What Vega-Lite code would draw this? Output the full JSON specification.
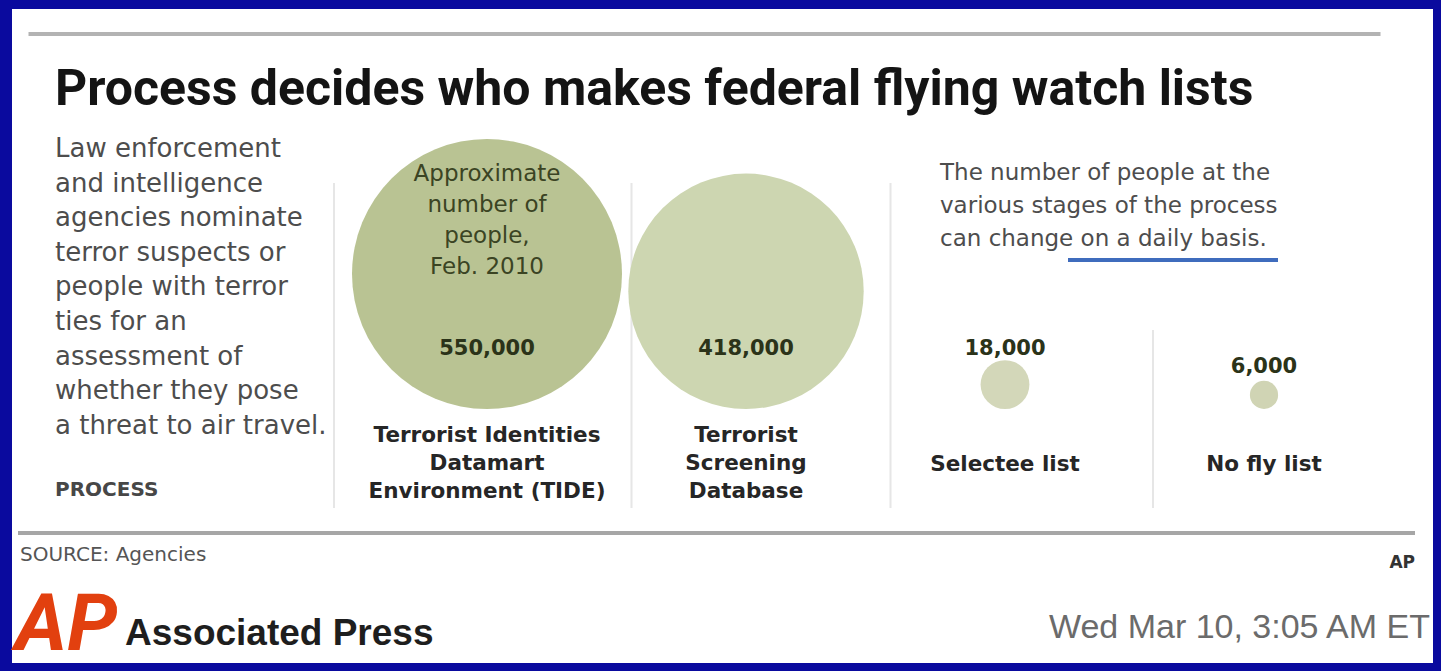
{
  "$schema": "https://vega.github.io/schema/vega-lite/v6.json",
  "width": 1421,
  "height": 654,
  "autosize": {"type": "none"},
  "padding": {"left": 12, "top": 9, "right": 8, "bottom": 8},
  "background": "#0a0a9e",
  "config": {"view": {"fill": "#ffffff", "stroke": null}},
  "datasets": {
    "stages": [
      {"stage": "TIDE", "name": "Terrorist Identities\nDatamart\nEnvironment (TIDE)", "people": 550000},
      {"stage": "TSDB", "name": "Terrorist\nScreening\nDatabase", "people": 418000},
      {"stage": "Selectee", "name": "Selectee list", "people": 18000},
      {"stage": "NoFly", "name": "No fly list", "people": 6000}
    ],
    "notes": [
      {"stage": "PROCESS", "part": "title", "text": "Process decides who makes federal flying watch lists"},
      {"stage": "PROCESS", "part": "description", "text": "Law enforcement\nand intelligence\nagencies nominate\nterror suspects or\npeople with terror\nties for an\nassessment of\nwhether they pose\na threat to air travel."},
      {"stage": "PROCESS", "part": "label", "text": "PROCESS"},
      {"stage": "TIDE", "part": "caption", "text": "Approximate\nnumber of\npeople,\nFeb. 2010"},
      {"stage": "Selectee", "part": "note", "text": "The number of people at the\nvarious stages of the process\ncan change on a daily basis."},
      {"stage": "PROCESS", "part": "source", "text": "SOURCE: Agencies"},
      {"stage": "NoFly", "part": "credit", "text": "AP"},
      {"stage": "PROCESS", "part": "logo", "text": "AP"},
      {"stage": "PROCESS", "part": "publisher", "text": "Associated Press"},
      {"stage": "NoFly", "part": "timestamp", "text": "Wed Mar 10, 3:05 AM ET"}
    ]
  },
  "layer": [
    {
      "data": {"name": "notes"},
      "transform": [{"filter": "datum.part === 'title'"}],
      "mark": {"type": "rule", "stroke": "#b3b3b3", "strokeWidth": 4, "xOffset": -70, "x2Offset": -13, "yOffset": -54},
      "encoding": {
        "x": {"datum": "PROCESS", "type": "nominal", "bandPosition": 0, "axis": null, "scale": {"type": "band", "domain": ["PROCESS", "TIDE", "TSDB", "Selectee", "NoFly"], "range": [86.5, 1381.5], "paddingInner": 0, "paddingOuter": 0}},
        "x2": {"datum": "NoFly", "bandPosition": 1},
        "y": {"datum": "title", "type": "nominal", "axis": null, "scale": {"type": "point", "domain": ["title", "note", "value", "base", "name", "source", "footer"], "range": [79, 631], "padding": 0}}
      }
    },
    {
      "data": {"name": "notes"},
      "transform": [{"filter": "datum.part === 'source'"}],
      "mark": {"type": "rule", "stroke": "#a6a6a6", "strokeWidth": 4, "xOffset": -80.5, "x2Offset": 21.5, "yOffset": -15},
      "encoding": {
        "x": {"datum": "PROCESS", "type": "nominal", "bandPosition": 0, "axis": null, "scale": {"type": "band", "domain": ["PROCESS", "TIDE", "TSDB", "Selectee", "NoFly"], "range": [86.5, 1381.5], "paddingInner": 0, "paddingOuter": 0}},
        "x2": {"datum": "NoFly", "bandPosition": 1},
        "y": {"datum": "source", "type": "nominal", "axis": null, "scale": {"type": "point", "domain": ["title", "note", "value", "base", "name", "source", "footer"], "range": [79, 631], "padding": 0}}
      }
    },
    {
      "data": {"name": "stages"},
      "transform": [{"filter": "datum.stage === 'TIDE'"}],
      "mark": {"type": "rule", "stroke": "#e6e6e6", "strokeWidth": 2, "xOffset": -23.5, "yOffset": 3, "y2Offset": 52},
      "encoding": {
        "x": {"field": "stage", "type": "nominal", "bandPosition": 0, "axis": null, "scale": {"type": "band", "domain": ["PROCESS", "TIDE", "TSDB", "Selectee", "NoFly"], "range": [86.5, 1381.5], "paddingInner": 0, "paddingOuter": 0}},
        "y": {"datum": "note", "type": "nominal", "axis": null, "scale": {"type": "point", "domain": ["title", "note", "value", "base", "name", "source", "footer"], "range": [79, 631], "padding": 0}},
        "y2": {"datum": "name"}
      }
    },
    {
      "data": {"name": "stages"},
      "transform": [{"filter": "datum.stage === 'TSDB' || datum.stage === 'Selectee'"}],
      "mark": {"type": "rule", "stroke": "#e6e6e6", "strokeWidth": 2, "xOffset": 15, "yOffset": 3, "y2Offset": 52},
      "encoding": {
        "x": {"field": "stage", "type": "nominal", "bandPosition": 0, "axis": null, "scale": {"type": "band", "domain": ["PROCESS", "TIDE", "TSDB", "Selectee", "NoFly"], "range": [86.5, 1381.5], "paddingInner": 0, "paddingOuter": 0}},
        "y": {"datum": "note", "type": "nominal", "axis": null, "scale": {"type": "point", "domain": ["title", "note", "value", "base", "name", "source", "footer"], "range": [79, 631], "padding": 0}},
        "y2": {"datum": "name"}
      }
    },
    {
      "data": {"name": "stages"},
      "transform": [{"filter": "datum.stage === 'NoFly'"}],
      "mark": {"type": "rule", "stroke": "#e6e6e6", "strokeWidth": 2, "xOffset": 18.5, "yOffset": 58, "y2Offset": 52},
      "encoding": {
        "x": {"field": "stage", "type": "nominal", "bandPosition": 0, "axis": null, "scale": {"type": "band", "domain": ["PROCESS", "TIDE", "TSDB", "Selectee", "NoFly"], "range": [86.5, 1381.5], "paddingInner": 0, "paddingOuter": 0}},
        "y": {"datum": "value", "type": "nominal", "axis": null, "scale": {"type": "point", "domain": ["title", "note", "value", "base", "name", "source", "footer"], "range": [79, 631], "padding": 0}},
        "y2": {"datum": "name"}
      }
    },
    {
      "data": {"name": "stages"},
      "mark": {"type": "circle", "opacity": 1},
      "encoding": {
        "x": {"field": "stage", "type": "nominal", "axis": null, "scale": {"type": "band", "domain": ["PROCESS", "TIDE", "TSDB", "Selectee", "NoFly"], "range": [86.5, 1381.5], "paddingInner": 0, "paddingOuter": 0}},
        "y": {"datum": "base", "type": "nominal", "axis": null, "scale": {"type": "point", "domain": ["title", "note", "value", "base", "name", "source", "footer"], "range": [79, 631], "padding": 0}},
        "yOffset": {"field": "people", "type": "quantitative", "scale": {"type": "sqrt", "domain": [0, 550000], "range": [45, -90]}},
        "size": {"field": "people", "type": "quantitative", "legend": null, "scale": {"type": "linear", "domain": [0, 550000], "range": [0, 72900]}},
        "color": {"field": "stage", "type": "nominal", "legend": null, "scale": {"domain": ["TIDE", "TSDB", "Selectee", "NoFly"], "range": ["#b9c393", "#cdd6b1", "#d3d7b9", "#d0d4b4"]}}
      }
    },
    {
      "data": {"name": "notes"},
      "transform": [{"filter": "datum.part === 'caption'"}],
      "mark": {"type": "text", "font": "DejaVu Sans", "fontSize": 23, "color": "#3b4423", "align": "center", "baseline": "top", "lineBreak": "\n", "lineHeight": 31, "dy": -17},
      "encoding": {
        "x": {"field": "stage", "type": "nominal", "axis": null, "scale": {"type": "band", "domain": ["PROCESS", "TIDE", "TSDB", "Selectee", "NoFly"], "range": [86.5, 1381.5], "paddingInner": 0, "paddingOuter": 0}},
        "y": {"datum": "note", "type": "nominal", "axis": null, "scale": {"type": "point", "domain": ["title", "note", "value", "base", "name", "source", "footer"], "range": [79, 631], "padding": 0}},
        "text": {"field": "text", "type": "nominal"}
      }
    },
    {
      "data": {"name": "stages"},
      "transform": [{"filter": "datum.stage !== 'NoFly'"}],
      "mark": {"type": "text", "font": "DejaVu Sans", "fontWeight": "bold", "fontSize": 21, "color": "#2b3319", "align": "center", "baseline": "middle", "dy": 77},
      "encoding": {
        "x": {"field": "stage", "type": "nominal", "axis": null, "scale": {"type": "band", "domain": ["PROCESS", "TIDE", "TSDB", "Selectee", "NoFly"], "range": [86.5, 1381.5], "paddingInner": 0, "paddingOuter": 0}},
        "y": {"datum": "value", "type": "nominal", "axis": null, "scale": {"type": "point", "domain": ["title", "note", "value", "base", "name", "source", "footer"], "range": [79, 631], "padding": 0}},
        "text": {"field": "people", "type": "quantitative", "format": ","}
      }
    },
    {
      "data": {"name": "stages"},
      "transform": [{"filter": "datum.stage === 'NoFly'"}],
      "mark": {"type": "text", "font": "DejaVu Sans", "fontWeight": "bold", "fontSize": 21, "color": "#2b3319", "align": "center", "baseline": "middle", "dy": 95},
      "encoding": {
        "x": {"field": "stage", "type": "nominal", "axis": null, "scale": {"type": "band", "domain": ["PROCESS", "TIDE", "TSDB", "Selectee", "NoFly"], "range": [86.5, 1381.5], "paddingInner": 0, "paddingOuter": 0}},
        "y": {"datum": "value", "type": "nominal", "axis": null, "scale": {"type": "point", "domain": ["title", "note", "value", "base", "name", "source", "footer"], "range": [79, 631], "padding": 0}},
        "text": {"field": "people", "type": "quantitative", "format": ","}
      }
    },
    {
      "data": {"name": "stages"},
      "transform": [{"filter": "datum.stage === 'TIDE' || datum.stage === 'TSDB'"}],
      "mark": {"type": "text", "font": "DejaVu Sans", "fontWeight": "bold", "fontSize": 21.5, "color": "#262626", "align": "center", "baseline": "middle", "lineBreak": "\n", "lineHeight": 28, "dy": -20},
      "encoding": {
        "x": {"field": "stage", "type": "nominal", "axis": null, "scale": {"type": "band", "domain": ["PROCESS", "TIDE", "TSDB", "Selectee", "NoFly"], "range": [86.5, 1381.5], "paddingInner": 0, "paddingOuter": 0}},
        "y": {"datum": "name", "type": "nominal", "axis": null, "scale": {"type": "point", "domain": ["title", "note", "value", "base", "name", "source", "footer"], "range": [79, 631], "padding": 0}},
        "text": {"field": "name", "type": "nominal"}
      }
    },
    {
      "data": {"name": "stages"},
      "transform": [{"filter": "datum.stage === 'Selectee' || datum.stage === 'NoFly'"}],
      "mark": {"type": "text", "font": "DejaVu Sans", "fontWeight": "bold", "fontSize": 21.5, "color": "#262626", "align": "center", "baseline": "middle", "dy": 9},
      "encoding": {
        "x": {"field": "stage", "type": "nominal", "axis": null, "scale": {"type": "band", "domain": ["PROCESS", "TIDE", "TSDB", "Selectee", "NoFly"], "range": [86.5, 1381.5], "paddingInner": 0, "paddingOuter": 0}},
        "y": {"datum": "name", "type": "nominal", "axis": null, "scale": {"type": "point", "domain": ["title", "note", "value", "base", "name", "source", "footer"], "range": [79, 631], "padding": 0}},
        "text": {"field": "name", "type": "nominal"}
      }
    },
    {
      "data": {"name": "notes"},
      "transform": [{"filter": "datum.part === 'title'"}],
      "mark": {"type": "text", "font": "Roboto", "fontWeight": "bold", "fontSize": 50, "color": "#141414", "align": "left", "baseline": "alphabetic", "dx": -173, "dy": 17},
      "encoding": {
        "x": {"field": "stage", "type": "nominal", "axis": null, "scale": {"type": "band", "domain": ["PROCESS", "TIDE", "TSDB", "Selectee", "NoFly"], "range": [86.5, 1381.5], "paddingInner": 0, "paddingOuter": 0}},
        "y": {"datum": "title", "type": "nominal", "axis": null, "scale": {"type": "point", "domain": ["title", "note", "value", "base", "name", "source", "footer"], "range": [79, 631], "padding": 0}},
        "text": {"field": "text", "type": "nominal"}
      }
    },
    {
      "data": {"name": "notes"},
      "transform": [{"filter": "datum.part === 'description'"}],
      "mark": {"type": "text", "font": "DejaVu Sans", "fontSize": 26, "color": "#4d4d4d", "align": "left", "baseline": "top", "lineBreak": "\n", "lineHeight": 34.6, "dx": -173, "dy": -44},
      "encoding": {
        "x": {"field": "stage", "type": "nominal", "axis": null, "scale": {"type": "band", "domain": ["PROCESS", "TIDE", "TSDB", "Selectee", "NoFly"], "range": [86.5, 1381.5], "paddingInner": 0, "paddingOuter": 0}},
        "y": {"datum": "note", "type": "nominal", "axis": null, "scale": {"type": "point", "domain": ["title", "note", "value", "base", "name", "source", "footer"], "range": [79, 631], "padding": 0}},
        "text": {"field": "text", "type": "nominal"}
      }
    },
    {
      "data": {"name": "notes"},
      "transform": [{"filter": "datum.part === 'label'"}],
      "mark": {"type": "text", "font": "DejaVu Sans", "fontWeight": "bold", "fontSize": 20, "color": "#474747", "align": "left", "baseline": "middle", "dx": -173, "dy": 34},
      "encoding": {
        "x": {"field": "stage", "type": "nominal", "axis": null, "scale": {"type": "band", "domain": ["PROCESS", "TIDE", "TSDB", "Selectee", "NoFly"], "range": [86.5, 1381.5], "paddingInner": 0, "paddingOuter": 0}},
        "y": {"datum": "name", "type": "nominal", "axis": null, "scale": {"type": "point", "domain": ["title", "note", "value", "base", "name", "source", "footer"], "range": [79, 631], "padding": 0}},
        "text": {"field": "text", "type": "nominal"}
      }
    },
    {
      "data": {"name": "notes"},
      "transform": [{"filter": "datum.part === 'note'"}],
      "mark": {"type": "text", "font": "DejaVu Sans", "fontSize": 23, "color": "#4d4d4d", "align": "left", "baseline": "top", "lineBreak": "\n", "lineHeight": 33, "dx": -65, "dy": -18},
      "encoding": {
        "x": {"field": "stage", "type": "nominal", "axis": null, "scale": {"type": "band", "domain": ["PROCESS", "TIDE", "TSDB", "Selectee", "NoFly"], "range": [86.5, 1381.5], "paddingInner": 0, "paddingOuter": 0}},
        "y": {"datum": "note", "type": "nominal", "axis": null, "scale": {"type": "point", "domain": ["title", "note", "value", "base", "name", "source", "footer"], "range": [79, 631], "padding": 0}},
        "text": {"field": "text", "type": "nominal"}
      }
    },
    {
      "data": {"name": "notes"},
      "transform": [{"filter": "datum.part === 'note'"}],
      "mark": {"type": "rule", "stroke": "#3f6cbd", "strokeWidth": 4, "xOffset": 63, "x2Offset": 14, "yOffset": 80},
      "encoding": {
        "x": {"datum": "Selectee", "type": "nominal", "bandPosition": 0.5, "axis": null, "scale": {"type": "band", "domain": ["PROCESS", "TIDE", "TSDB", "Selectee", "NoFly"], "range": [86.5, 1381.5], "paddingInner": 0, "paddingOuter": 0}},
        "x2": {"datum": "NoFly", "bandPosition": 0.5},
        "y": {"datum": "note", "type": "nominal", "axis": null, "scale": {"type": "point", "domain": ["title", "note", "value", "base", "name", "source", "footer"], "range": [79, 631], "padding": 0}}
      }
    },
    {
      "data": {"name": "notes"},
      "transform": [{"filter": "datum.part === 'source'"}],
      "mark": {"type": "text", "font": "DejaVu Sans", "fontSize": 20, "color": "#555555", "align": "left", "baseline": "middle", "dx": -208, "dy": 7},
      "encoding": {
        "x": {"field": "stage", "type": "nominal", "axis": null, "scale": {"type": "band", "domain": ["PROCESS", "TIDE", "TSDB", "Selectee", "NoFly"], "range": [86.5, 1381.5], "paddingInner": 0, "paddingOuter": 0}},
        "y": {"datum": "source", "type": "nominal", "axis": null, "scale": {"type": "point", "domain": ["title", "note", "value", "base", "name", "source", "footer"], "range": [79, 631], "padding": 0}},
        "text": {"field": "text", "type": "nominal"}
      }
    },
    {
      "data": {"name": "notes"},
      "transform": [{"filter": "datum.part === 'credit'"}],
      "mark": {"type": "text", "font": "DejaVu Sans", "fontWeight": "bold", "fontSize": 17, "color": "#333333", "align": "right", "baseline": "middle", "dx": 151, "dy": 15},
      "encoding": {
        "x": {"field": "stage", "type": "nominal", "axis": null, "scale": {"type": "band", "domain": ["PROCESS", "TIDE", "TSDB", "Selectee", "NoFly"], "range": [86.5, 1381.5], "paddingInner": 0, "paddingOuter": 0}},
        "y": {"datum": "source", "type": "nominal", "axis": null, "scale": {"type": "point", "domain": ["title", "note", "value", "base", "name", "source", "footer"], "range": [79, 631], "padding": 0}},
        "text": {"field": "text", "type": "nominal"}
      }
    },
    {
      "data": {"name": "notes"},
      "transform": [{"filter": "datum.part === 'logo'"}],
      "mark": {"type": "text", "font": "Roboto", "fontWeight": "bold", "fontStyle": "italic", "fontSize": 80, "color": "#e2400f", "align": "left", "baseline": "alphabetic", "dx": -213, "dy": 10},
      "encoding": {
        "x": {"field": "stage", "type": "nominal", "axis": null, "scale": {"type": "band", "domain": ["PROCESS", "TIDE", "TSDB", "Selectee", "NoFly"], "range": [86.5, 1381.5], "paddingInner": 0, "paddingOuter": 0}},
        "y": {"datum": "footer", "type": "nominal", "axis": null, "scale": {"type": "point", "domain": ["title", "note", "value", "base", "name", "source", "footer"], "range": [79, 631], "padding": 0}},
        "text": {"field": "text", "type": "nominal"}
      }
    },
    {
      "data": {"name": "notes"},
      "transform": [{"filter": "datum.part === 'publisher'"}],
      "mark": {"type": "text", "font": "Liberation Sans, Arial, sans-serif", "fontWeight": "bold", "fontSize": 37, "color": "#1e1e1e", "align": "left", "baseline": "alphabetic", "dx": -103, "dy": 5},
      "encoding": {
        "x": {"field": "stage", "type": "nominal", "axis": null, "scale": {"type": "band", "domain": ["PROCESS", "TIDE", "TSDB", "Selectee", "NoFly"], "range": [86.5, 1381.5], "paddingInner": 0, "paddingOuter": 0}},
        "y": {"datum": "footer", "type": "nominal", "axis": null, "scale": {"type": "point", "domain": ["title", "note", "value", "base", "name", "source", "footer"], "range": [79, 631], "padding": 0}},
        "text": {"field": "text", "type": "nominal"}
      }
    },
    {
      "data": {"name": "notes"},
      "transform": [{"filter": "datum.part === 'timestamp'"}],
      "mark": {"type": "text", "font": "Liberation Sans, Arial, sans-serif", "fontSize": 34, "color": "#6b6b6b", "align": "right", "baseline": "alphabetic", "dx": 166, "dy": -2},
      "encoding": {
        "x": {"field": "stage", "type": "nominal", "axis": null, "scale": {"type": "band", "domain": ["PROCESS", "TIDE", "TSDB", "Selectee", "NoFly"], "range": [86.5, 1381.5], "paddingInner": 0, "paddingOuter": 0}},
        "y": {"datum": "footer", "type": "nominal", "axis": null, "scale": {"type": "point", "domain": ["title", "note", "value", "base", "name", "source", "footer"], "range": [79, 631], "padding": 0}},
        "text": {"field": "text", "type": "nominal"}
      }
    }
  ]
}
